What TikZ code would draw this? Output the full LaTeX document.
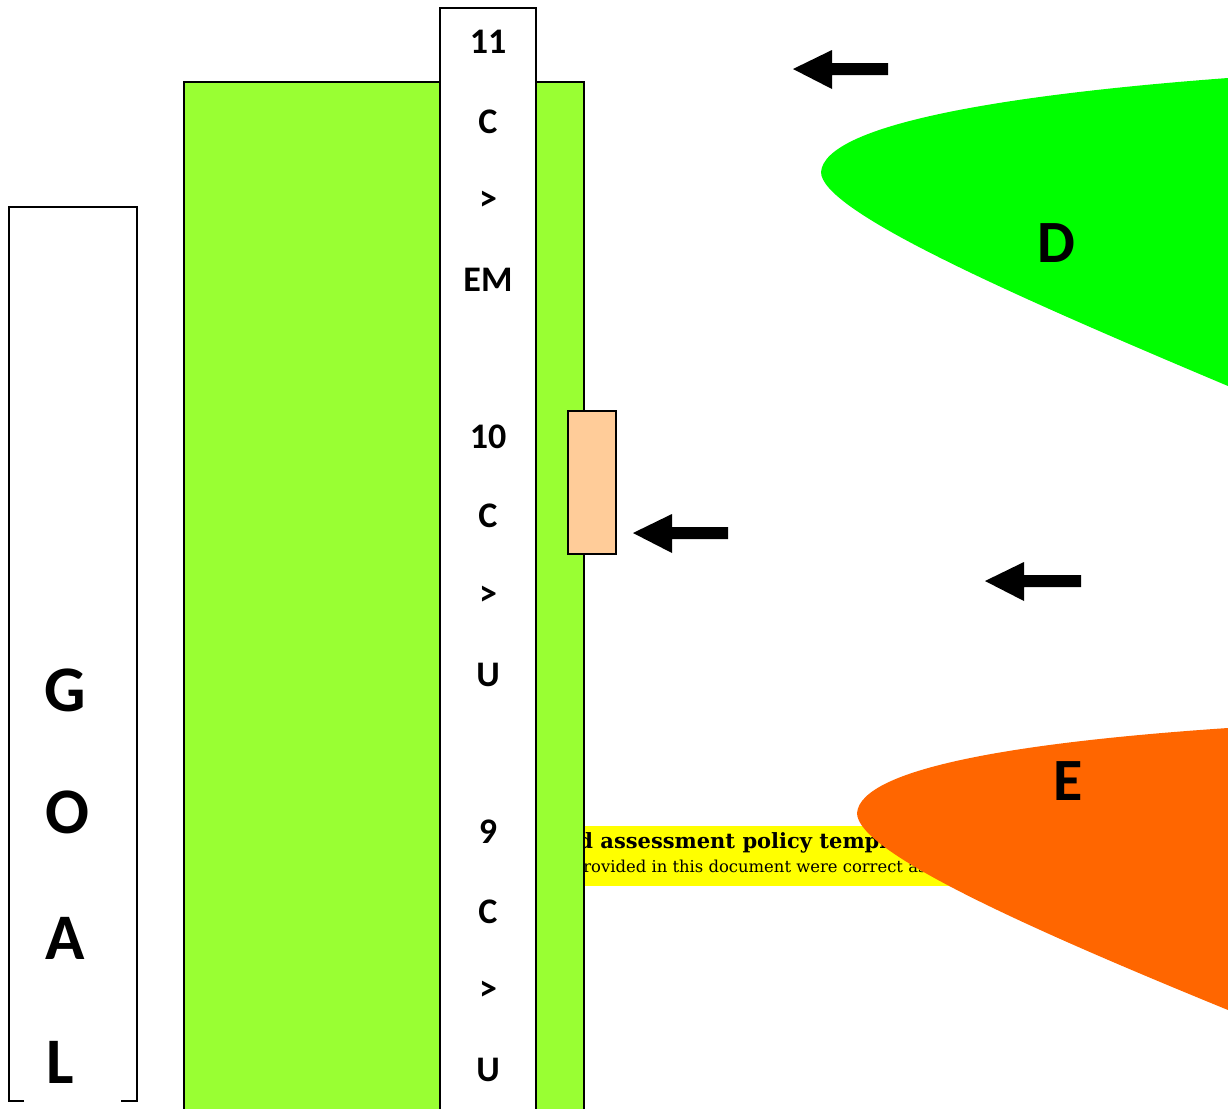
\documentclass[tikz,border=0pt]{standalone}
\usepackage{fontspec}
\setmainfont{Carlito}
\newfontfamily\slabfont{DejaVu Serif}
\definecolor{barGreen}{HTML}{99FF33}
\definecolor{dGreen}{HTML}{00FF00}
\definecolor{eOrange}{HTML}{FF6600}
\definecolor{peach}{HTML}{FFCC99}
\definecolor{stripYellow}{HTML}{FFFF00}
\tikzset{
  boxline/.style={draw=black, line width=0.9pt},
  collabel/.style={font=\fontsize{18}{20}\selectfont\bfseries, inner sep=0pt},
  goallabel/.style={font=\fontsize{32.5}{36}\selectfont\bfseries, inner sep=0pt},
  biglabel/.style={font=\fontsize{30}{34}\selectfont\bfseries, inner sep=0pt},
  blockarrow/.style={fill=black},
}
\begin{document}
\begin{tikzpicture}[x=0.5pt,y=-0.5pt]
\useasboundingbox (0,0) rectangle (1228,1109);
\clip (0,0) rectangle (1228,1109);
% yellow strip with clipped text
\begin{scope}
  \clip (560,826) rectangle (1000,886);
  \fill[stripYellow] (560,826) rectangle (1000,886);
  \node[anchor=base west, inner sep=0pt, font=\slabfont\fontsize{10.5}{12}\selectfont\bfseries] (stripA) at (600,848) {\llap{and\ }assessment policy template};
  \node[anchor=base west, inner sep=0pt, font=\slabfont\fontsize{8.2}{9}\selectfont] (stripB) at (583,872) {\llap{p}rovided in this document were correct as at the time};
\end{scope}
% green bar
\path[boxline, fill=barGreen] (184,1130) -- (184,82) -- (584,82) -- (584,1130);
% column
\path[boxline, fill=white] (440,1130) -- (440,8) -- (536,8) -- (536,1130);
% peach box
\node[boxline, fill=peach, minimum width=24pt, minimum height=71.5pt, inner sep=0pt] (peachbox) at (592,482.5) {};
% GOAL box
\fill[white] (9,207) rectangle (137,1101);
\draw[line width=0.9pt] (24,1101) -- (9,1101) -- (9,207) -- (137,207) -- (137,1101) -- (121,1101);
\node[goallabel] (g) at (65,690) {G};
\node[goallabel] (o) at (67,812) {O};
\node[goallabel] (a) at (65,938) {A};
\node[goallabel] (l) at (60,1062) {L};
% column labels
\node[collabel] (c1) at (488,42) {11};
\node[collabel] (c2) at (488,122) {C};
\node[collabel] (c3) at (488,201) {>};
\node[collabel] (c4) at (488,280) {EM};
\node[collabel] (c5) at (488,437) {10};
\node[collabel] (c6) at (488,516) {C};
\node[collabel] (c7) at (488,596) {>};
\node[collabel] (c8) at (488,675) {U};
\node[collabel] (c9) at (488,832) {9};
\node[collabel] (c10) at (488,912) {C};
\node[collabel] (c11) at (488,991) {>};
\node[collabel] (c12) at (488,1070) {U};
% D shape
\fill[dGreen] (1300,70) -- (1228,78) .. controls (1000,95) and (825,125) .. (821,172)
  .. controls (821,210) and (1000,290) .. (1228,386) -- (1300,420) -- cycle;
\node[biglabel] (dlab) at (1056,243) {D};
% E shape
\fill[eOrange] (1300,720) -- (1228,728) .. controls (1020,742) and (861,768) .. (857,813)
  .. controls (857,851) and (1020,925) .. (1228,1010) -- (1300,1040) -- cycle;
\node[biglabel] (elab) at (1068,781) {E};
% block arrows
\fill[blockarrow] (793,69) -- (832,50) -- (832,63) -- (888,63) -- (888,75) -- (832,75) -- (832,89) -- cycle;
\fill[blockarrow] (633,533) -- (672,514) -- (672,527) -- (728,527) -- (728,539) -- (672,539) -- (672,553) -- cycle;
\fill[blockarrow] (985,581) -- (1024,562) -- (1024,575) -- (1081,575) -- (1081,587) -- (1024,587) -- (1024,601) -- cycle;
\end{tikzpicture}
\end{document}
